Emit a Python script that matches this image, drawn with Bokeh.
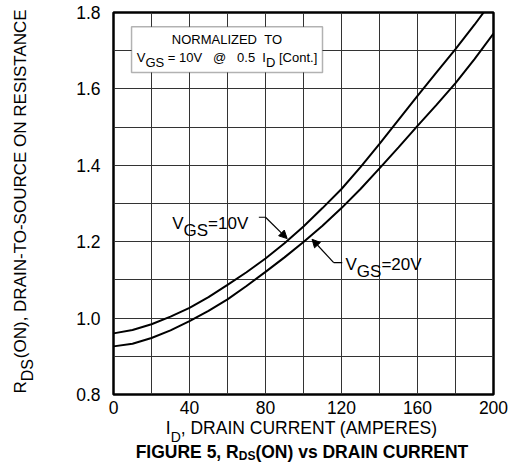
import numpy as np
from bokeh.plotting import figure
from bokeh.models import (FixedTicker, Label, LinearAxis, BoxAnnotation, Arrow, NormalHead,
                          Range1d)
from bokeh.embed import file_html
from bokeh.resources import INLINE

# Normalized on-resistance vs drain current
drain_current = [0, 10, 20, 30, 40, 50, 60, 70, 80, 90, 100,
                 110, 120, 130, 140, 150, 160, 170, 180, 190, 200]
rds_vgs10 = [0.960, 0.969, 0.984, 1.004, 1.027, 1.055, 1.087, 1.120, 1.156, 1.196, 1.240,
             1.288, 1.338, 1.395, 1.456, 1.519, 1.582, 1.643, 1.704, 1.768, 1.835]
rds_vgs20 = [0.926, 0.933, 0.948, 0.968, 0.992, 1.019, 1.049, 1.084, 1.121, 1.159, 1.199,
             1.242, 1.288, 1.338, 1.392, 1.447, 1.503, 1.558, 1.615, 1.678, 1.745]

x_ticks = [0, 40, 80, 120, 160, 200]
x_tick_labels = ["0", "40", "80", "120", "160", "200"]
y_ticks = [0.8, 1.0, 1.2, 1.4, 1.6, 1.8]
y_tick_labels = ["0.8", "1.0", "1.2", "1.4", "1.6", "1.8"]
x_grid = [0, 20, 40, 60, 80, 100, 120, 140, 160, 180, 200]
y_grid = [0.8, 0.9, 1.0, 1.1, 1.2, 1.3, 1.4, 1.5, 1.6, 1.7, 1.8]

FONT = "Liberation Sans"

# Arial/Liberation Sans advance widths (per 1000 em) used to lay out runs of text
W_REG = {" ": 278, "(": 333, ")": 333, ",": 278, "-": 333, ".": 278, "=": 584, "@": 1015,
         "[": 278, "]": 278, "A": 667, "C": 722, "D": 722, "E": 667, "G": 778, "I": 278,
         "L": 556, "M": 833, "N": 722, "O": 778, "P": 667, "R": 722, "S": 667, "T": 611,
         "U": 722, "V": 667, "Z": 611, "n": 556, "o": 556, "t": 278}
W_BOLD = {" ": 278, "(": 333, ")": 333, ",": 278, "A": 722, "C": 722, "D": 722, "E": 667,
          "F": 611, "G": 778, "I": 278, "N": 722, "O": 778, "R": 722, "S": 667, "T": 611,
          "U": 722, "s": 556, "v": 556}


def text_width(s, size, bold=False):
    table = W_BOLD if bold else W_REG
    return sum(table.get(ch, 556) for ch in s) * size / 1000.0


W, H = 511, 465
BORDER = dict(left=113, right=18, top=12, bottom=71)
X0, X1, Y0, Y1 = 0, 200, 0.8, 1.8
PX_PER_X = (W - BORDER["left"] - BORDER["right"]) / (X1 - X0)
PX_PER_Y = (H - BORDER["top"] - BORDER["bottom"]) / (Y1 - Y0)

p = figure(width=W, height=H, x_range=Range1d(X0, X1), y_range=Range1d(Y0, Y1),
           output_backend="svg", toolbar_location=None,
           min_border_left=BORDER["left"], min_border_right=BORDER["right"],
           min_border_top=BORDER["top"], min_border_bottom=BORDER["bottom"])
p.background_fill_color = "white"
p.border_fill_color = "white"
p.outline_line_color = "black"
p.outline_line_width = 2.5

p.xgrid.ticker = FixedTicker(ticks=x_grid)
p.ygrid.ticker = FixedTicker(ticks=y_grid)
for g in (p.xgrid, p.ygrid):
    g.grid_line_color = "#333333"
    g.grid_line_width = 1


def style_axis(ax, size, standoff, bold=False):
    ax.axis_line_color = None
    ax.major_tick_line_color = None
    ax.minor_tick_line_color = None
    ax.major_tick_out = 0
    ax.major_tick_in = 0
    ax.major_label_text_font = FONT
    ax.major_label_text_font_size = f"{size}px"
    ax.major_label_text_font_style = "bold" if bold else "normal"
    ax.major_label_text_color = "black"
    ax.major_label_standoff = standoff


p.xaxis.ticker = FixedTicker(ticks=x_ticks)
p.xaxis.major_label_overrides = dict(zip(x_ticks, x_tick_labels))
p.yaxis.ticker = FixedTicker(ticks=y_ticks)
p.yaxis.major_label_overrides = dict(zip(y_ticks, y_tick_labels))
style_axis(p.xaxis[0], 17.5, 6)
style_axis(p.yaxis[0], 17.5, 13)

p.line(drain_current, rds_vgs10, line_color="black", line_width=2)
p.line(drain_current, rds_vgs20, line_color="black", line_width=2)


def run_centers(pieces, start, bold=False):
    """Centre (in px from run start) of each (text, size) piece laid end to end."""
    centers, pos = [], start
    for t, s in pieces:
        w = text_width(t, s, bold)
        centers.append(pos + w / 2.0)
        pos += w
    return centers


def run_start(pieces, center, bold=False):
    return center - sum(text_width(t, s, bold) for t, s in pieces) / 2.0


def text_row(side, pos, texts, size, standoff, bold=False):
    """A bare axis whose tick labels carry pieces of a title outside the frame."""
    ticks = [round(v, 4) for v in pos]
    ax = LinearAxis(ticker=FixedTicker(ticks=ticks, minor_ticks=[]),
                    major_label_overrides=dict(zip(ticks, texts)))
    style_axis(ax, size, standoff, bold)
    if side == "left":
        ax.major_label_orientation = "parallel"
    p.add_layout(ax, side)


def write_run(x, y, pieces, align="left"):
    """In-frame label made of (text, size, drop, gap) pieces placed end to end."""
    total = sum(gap + text_width(t, s) for t, s, drop, gap in pieces)
    pos = -total / 2.0 if align == "center" else 0.0
    for t, s, drop, gap in pieces:
        pos += gap
        p.add_layout(Label(x=x, y=y, x_offset=pos, y_offset=-drop, text=t,
                           text_font=FONT, text_font_size=f"{s}px",
                           text_color="black", text_align="left",
                           text_baseline="alphabetic"))
        pos += text_width(t, s)


# x-axis title: I_D, DRAIN CURRENT (AMPERES)
xt = [("I", 17.5), ("D", 14), (", DRAIN CURRENT (AMPERES)", 17.5)]
c = run_centers(xt, run_start(xt, 99 * PX_PER_X))
text_row("below", [c[0] / PX_PER_X, c[2] / PX_PER_X], ["I", xt[2][0]], 17.5, 1)
text_row("below", [c[1] / PX_PER_X], ["D"], 14, -12)

# caption: FIGURE 5, R_DS(ON) vs DRAIN CURRENT
cap = [("FIGURE 5, R", 17.5), ("DS", 12), ("(ON) vs DRAIN CURRENT", 17.5)]
c = run_centers(cap, run_start(cap, 99.2 * PX_PER_X, True), True)
text_row("below", [c[0] / PX_PER_X, c[2] / PX_PER_X], [cap[0][0], cap[2][0]], 17.5, -6,
         bold=True)
text_row("below", [c[1] / PX_PER_X], ["DS"], 12, -16, bold=True)

# y-axis title: R_DS(ON), DRAIN-TO-SOURCE ON RESISTANCE (reads bottom to top)
yt = [("R", 17), ("DS", 16), ("(ON), DRAIN-TO-SOURCE ON RESISTANCE", 17)]
c = run_centers(yt, 1.0)
text_row("left", [Y0 + c[1] / PX_PER_Y], ["DS"], 16, 37)
text_row("left", [Y0 + c[0] / PX_PER_Y, Y0 + c[2] / PX_PER_Y], ["R", yt[2][0]], 17, -14)

# Normalization note
p.add_layout(BoxAnnotation(left=9.5, right=110, bottom=1.643, top=1.763,
                           fill_color="white", fill_alpha=1.0,
                           line_color="black", line_width=1.5))
write_run(59.75, 1.7285, [("NORMALIZED", 13, 0, 0), ("TO", 13, 0, 7.2)], align="center")
sp = 13 * 0.278
write_run(59.75, 1.683, [("V", 13, 0, 0), ("GS", 13, 5, 0), ("= 10V", 13, 0, sp),
                         ("@", 13, 0, 3 * sp), ("0.5", 13, 0, 3 * sp), ("I", 13, 0, 2 * sp),
                         ("D", 13, 5, 0), ("[Cont.]", 13, 0, sp)], align="center")

# Curve callouts
write_run(30.9, 1.247, [("V", 17, 0, 0), ("GS", 17, 7, 0), ("=10V", 17, 0, 0)])
write_run(122.1, 1.1396, [("V", 17, 0, 0), ("GS", 17, 7, 0), ("=20V", 17, 0, 0)])

head = dict(size=8, fill_color="black", line_color="black", line_width=1)
tip10_x = 91.4
tip10_y = float(np.interp(tip10_x, drain_current, rds_vgs10)) + 0.006
p.line([76.5, 80.0], [1.264, 1.264], line_color="black", line_width=1.2)
p.add_layout(Arrow(x_start=80.0, y_start=1.264, x_end=tip10_x, y_end=tip10_y,
                   line_color="black", line_width=1.2, end=NormalHead(**head)))

tip20_x = 104.5
tip20_y = float(np.interp(tip20_x, drain_current, rds_vgs20)) - 0.012
p.line([115.9, 120.4], [1.145, 1.145], line_color="black", line_width=1.2)
p.add_layout(Arrow(x_start=115.9, y_start=1.145, x_end=tip20_x, y_end=tip20_y,
                   line_color="black", line_width=1.2, end=NormalHead(**head)))

open("out.html", "w").write(file_html(p, INLINE))
